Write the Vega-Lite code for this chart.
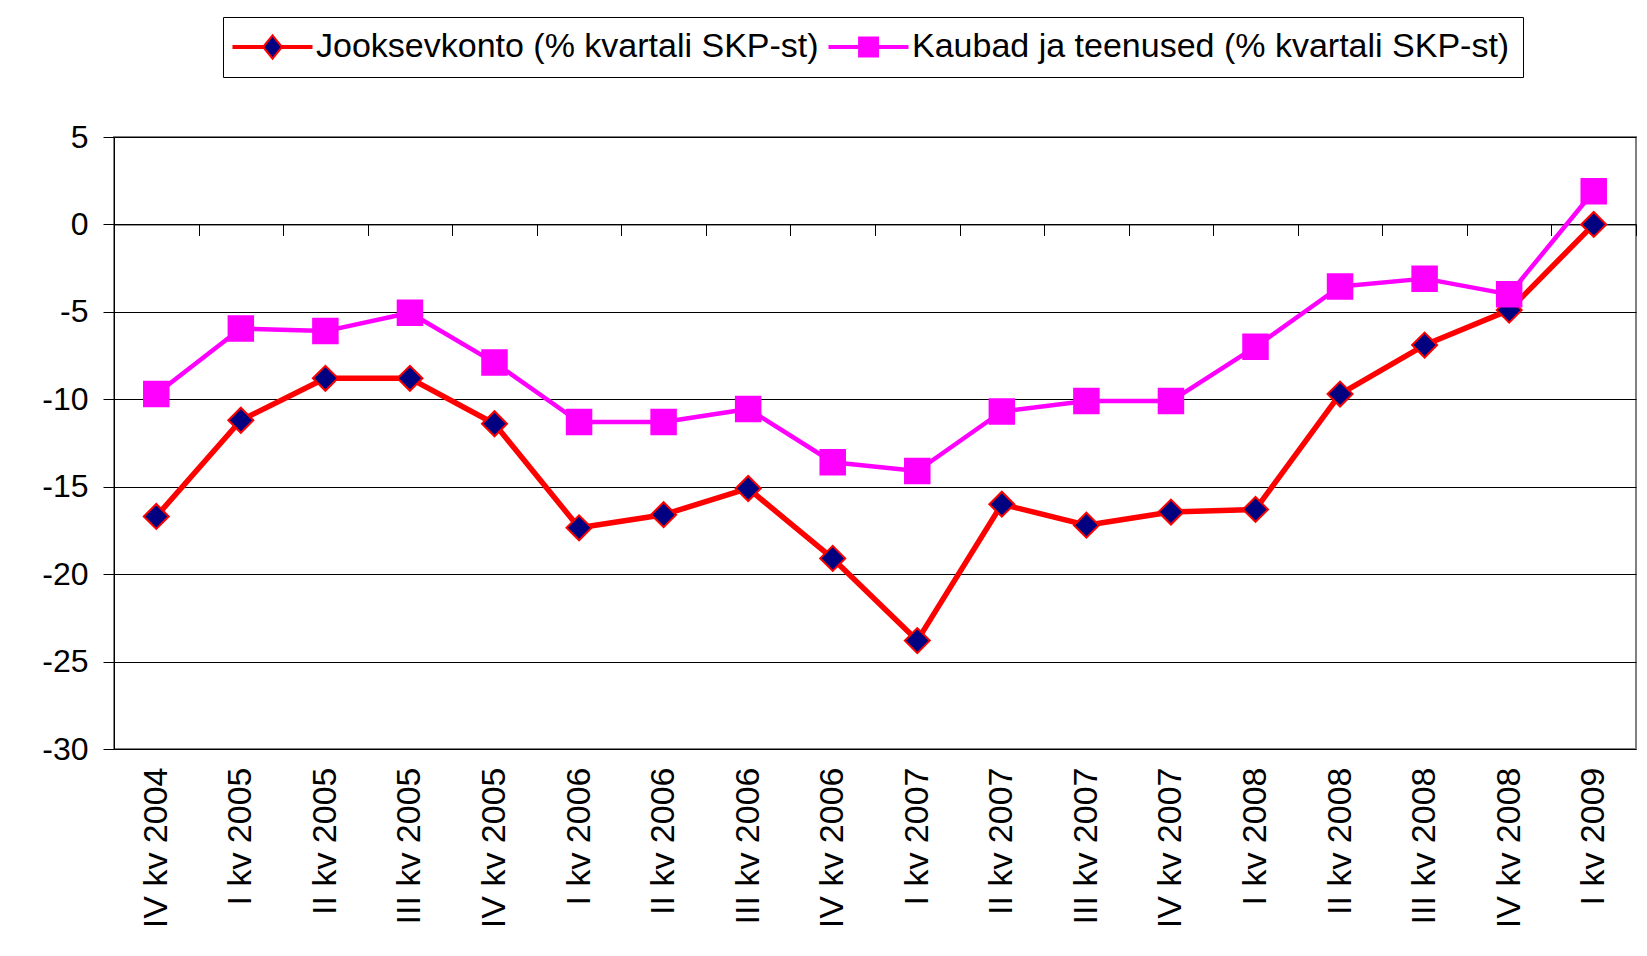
{
  "$schema": "https://vega.github.io/schema/vega-lite/v6.json",
  "width": 1522,
  "height": 612,
  "autosize": {"type": "none"},
  "padding": {"left": 114, "top": 137, "right": 11, "bottom": 207},
  "background": "white",
  "config": {
    "font": "Liberation Sans",
    "view": {"stroke": "#808080", "strokeWidth": 2},
    "axis": {"labelFont": "Liberation Sans", "labelColor": "black"},
    "legend": {"labelFont": "Liberation Sans", "labelColor": "black"}
  },
  "data": {
    "values": [
      {"q": "IV kv 2004", "series": "Jooksevkonto (% kvartali SKP-st)", "value": -16.7},
      {"q": "I kv 2005", "series": "Jooksevkonto (% kvartali SKP-st)", "value": -11.2},
      {"q": "II kv 2005", "series": "Jooksevkonto (% kvartali SKP-st)", "value": -8.8},
      {"q": "III kv 2005", "series": "Jooksevkonto (% kvartali SKP-st)", "value": -8.8},
      {"q": "IV kv 2005", "series": "Jooksevkonto (% kvartali SKP-st)", "value": -11.4},
      {"q": "I kv 2006", "series": "Jooksevkonto (% kvartali SKP-st)", "value": -17.35},
      {"q": "II kv 2006", "series": "Jooksevkonto (% kvartali SKP-st)", "value": -16.6},
      {"q": "III kv 2006", "series": "Jooksevkonto (% kvartali SKP-st)", "value": -15.1},
      {"q": "IV kv 2006", "series": "Jooksevkonto (% kvartali SKP-st)", "value": -19.1},
      {"q": "I kv 2007", "series": "Jooksevkonto (% kvartali SKP-st)", "value": -23.8},
      {"q": "II kv 2007", "series": "Jooksevkonto (% kvartali SKP-st)", "value": -16.0},
      {"q": "III kv 2007", "series": "Jooksevkonto (% kvartali SKP-st)", "value": -17.2},
      {"q": "IV kv 2007", "series": "Jooksevkonto (% kvartali SKP-st)", "value": -16.45},
      {"q": "I kv 2008", "series": "Jooksevkonto (% kvartali SKP-st)", "value": -16.3},
      {"q": "II kv 2008", "series": "Jooksevkonto (% kvartali SKP-st)", "value": -9.7},
      {"q": "III kv 2008", "series": "Jooksevkonto (% kvartali SKP-st)", "value": -6.9},
      {"q": "IV kv 2008", "series": "Jooksevkonto (% kvartali SKP-st)", "value": -4.9},
      {"q": "I kv 2009", "series": "Jooksevkonto (% kvartali SKP-st)", "value": 0.0},
      {"q": "IV kv 2004", "series": "Kaubad ja teenused (% kvartali SKP-st)", "value": -9.7},
      {"q": "I kv 2005", "series": "Kaubad ja teenused (% kvartali SKP-st)", "value": -5.95},
      {"q": "II kv 2005", "series": "Kaubad ja teenused (% kvartali SKP-st)", "value": -6.1},
      {"q": "III kv 2005", "series": "Kaubad ja teenused (% kvartali SKP-st)", "value": -5.05},
      {"q": "IV kv 2005", "series": "Kaubad ja teenused (% kvartali SKP-st)", "value": -7.9},
      {"q": "I kv 2006", "series": "Kaubad ja teenused (% kvartali SKP-st)", "value": -11.3},
      {"q": "II kv 2006", "series": "Kaubad ja teenused (% kvartali SKP-st)", "value": -11.3},
      {"q": "III kv 2006", "series": "Kaubad ja teenused (% kvartali SKP-st)", "value": -10.55},
      {"q": "IV kv 2006", "series": "Kaubad ja teenused (% kvartali SKP-st)", "value": -13.6},
      {"q": "I kv 2007", "series": "Kaubad ja teenused (% kvartali SKP-st)", "value": -14.1},
      {"q": "II kv 2007", "series": "Kaubad ja teenused (% kvartali SKP-st)", "value": -10.7},
      {"q": "III kv 2007", "series": "Kaubad ja teenused (% kvartali SKP-st)", "value": -10.1},
      {"q": "IV kv 2007", "series": "Kaubad ja teenused (% kvartali SKP-st)", "value": -10.1},
      {"q": "I kv 2008", "series": "Kaubad ja teenused (% kvartali SKP-st)", "value": -7.0},
      {"q": "II kv 2008", "series": "Kaubad ja teenused (% kvartali SKP-st)", "value": -3.55},
      {"q": "III kv 2008", "series": "Kaubad ja teenused (% kvartali SKP-st)", "value": -3.1},
      {"q": "IV kv 2008", "series": "Kaubad ja teenused (% kvartali SKP-st)", "value": -4.0},
      {"q": "I kv 2009", "series": "Kaubad ja teenused (% kvartali SKP-st)", "value": 1.9}
    ]
  },
  "encoding": {
    "x": {
      "field": "q",
      "type": "nominal",
      "sort": null,
      "scale": {"type": "band", "paddingInner": 0, "paddingOuter": 0},
      "axis": {
        "title": null,
        "orient": "bottom",
        "offset": -524.57,
        "domain": true,
        "domainColor": "black",
        "domainWidth": 1,
        "ticks": true,
        "tickColor": "black",
        "tickSize": 11,
        "tickWidth": 1,
        "tickBand": "extent",
        "labelAngle": -90,
        "labelFontSize": 34,
        "labelPadding": 531.57,
        "grid": false
      }
    },
    "y": {
      "field": "value",
      "type": "quantitative",
      "scale": {"domain": [-30, 5], "nice": false, "zero": false},
      "axis": {
        "title": null,
        "values": [-30, -25, -20, -15, -10, -5, 0, 5],
        "labelExpr": "'' + datum.value",
        "grid": true,
        "gridColor": "black",
        "gridWidth": 1,
        "domain": true,
        "domainColor": "black",
        "domainWidth": 1,
        "tickColor": "black",
        "tickSize": 11,
        "labelFontSize": 32,
        "labelPadding": 15
      }
    }
  },
  "layer": [
    {
      "transform": [{"filter": "datum.series == 'Jooksevkonto (% kvartali SKP-st)'"}],
      "mark": {"type": "line", "strokeJoin": "round", "stroke": "#FF0000", "strokeWidth": 5.5}
    },
    {
      "transform": [{"filter": "datum.series == 'Jooksevkonto (% kvartali SKP-st)'"}],
      "mark": {"type": "point", "shape": "diamond", "filled": true, "size": 625, "fill": "#000080", "stroke": "#FF0000", "strokeWidth": 2, "opacity": 1}
    },
    {
      "transform": [{"filter": "datum.series == 'Kaubad ja teenused (% kvartali SKP-st)'"}],
      "mark": {"type": "line", "strokeJoin": "round", "stroke": "#FF00FF", "strokeWidth": 4.5}
    },
    {
      "transform": [{"filter": "datum.series == 'Kaubad ja teenused (% kvartali SKP-st)'"}],
      "mark": {"type": "point", "shape": "square", "filled": true, "size": 600, "fill": "#FF00FF", "stroke": "#FF00FF", "strokeWidth": 2, "opacity": 1}
    },
    {
      "mark": {"type": "point", "filled": true, "size": 441, "strokeWidth": 2, "opacity": 0},
      "encoding": {
        "shape": {
          "field": "series",
          "type": "nominal",
          "scale": {
            "domain": ["Jooksevkonto (% kvartali SKP-st)", "Kaubad ja teenused (% kvartali SKP-st)"],
            "range": [
              "M-1.86,-0.09L0.96,-0.09L0.96,0.09L-1.86,0.09Z M2.76,-0.09L5.57,-0.09L5.57,0.09L2.76,0.09Z M0.96,0L1.86,-1.1L2.76,0L1.86,1.1Z",
              "M-1.86,-0.1L5.57,-0.1L5.57,0.1L-1.86,0.1Z M0.96,-0.9L2.76,-0.9L2.76,0.9L0.96,0.9Z"
            ]
          },
          "legend": {
            "title": null,
            "orient": "none",
            "legendX": 109,
            "legendY": -120,
            "direction": "horizontal",
            "strokeColor": "black",
            "fillColor": "white",
            "padding": 13,
            "columnPadding": 6,
            "labelFontSize": 34,
            "labelOffset": 46,
            "labelLimit": 1000,
            "symbolSize": 441,
            "symbolStrokeWidth": 2,
            "symbolOpacity": 1
          }
        },
        "fill": {
          "field": "series",
          "type": "nominal",
          "scale": {"domain": ["Jooksevkonto (% kvartali SKP-st)", "Kaubad ja teenused (% kvartali SKP-st)"], "range": ["#000080", "#FF00FF"]}
        },
        "stroke": {
          "field": "series",
          "type": "nominal",
          "scale": {"domain": ["Jooksevkonto (% kvartali SKP-st)", "Kaubad ja teenused (% kvartali SKP-st)"], "range": ["#FF0000", "#FF00FF"]}
        }
      }
    }
  ]
}
